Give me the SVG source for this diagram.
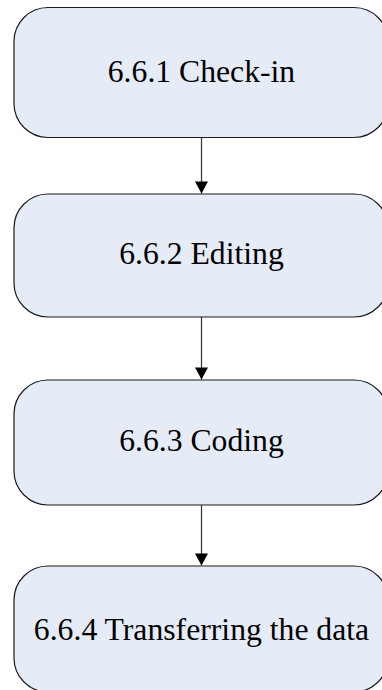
<svg xmlns="http://www.w3.org/2000/svg" width="382" height="690" viewBox="0 0 382 690">
<defs>
<style>
.box{fill:#E6ECF7;stroke:#1a1a1a;stroke-width:1.2}
.lbl{font-family:"Liberation Serif","Times New Roman",serif;font-size:31.7px;fill:#000;text-anchor:middle}
.con{stroke:#333;stroke-width:1.2;fill:none}
</style>
<marker id="ah" markerWidth="14" markerHeight="13" refX="13" refY="7" orient="auto" markerUnits="userSpaceOnUse" viewBox="0 0 13 14">
<path d="M0,0 L13,7 L0,14 Z" fill="#000"/>
</marker>
</defs>
<rect width="382" height="690" fill="#fff"/>
<g id="connectors">
<line class="con" x1="201.5" y1="138" x2="201.5" y2="193.5" marker-end="url(#ah)"/>
<line class="con" x1="201.5" y1="317" x2="201.5" y2="379.5" marker-end="url(#ah)"/>
<line class="con" x1="201.5" y1="505" x2="201.5" y2="565.5" marker-end="url(#ah)"/>
</g>
<g id="n1">
<rect class="box" x="14" y="7.5" width="374" height="130" rx="34" ry="34"/>
<text class="lbl" x="201.5" y="81.5">6.6.1 Check-in</text>
</g>
<g id="n2">
<rect class="box" x="14" y="194" width="374" height="123" rx="34" ry="34"/>
<text class="lbl" x="201.5" y="263.5">6.6.2 Editing</text>
</g>
<g id="n3">
<rect class="box" x="14" y="380" width="374" height="125" rx="34" ry="34"/>
<text class="lbl" x="201.5" y="450.5">6.6.3 Coding</text>
</g>
<g id="n4">
<rect class="box" x="14" y="566" width="374" height="126" rx="34" ry="34"/>
<text class="lbl" x="201.5" y="639.5">6.6.4 Transferring the data</text>
</g>
</svg>
